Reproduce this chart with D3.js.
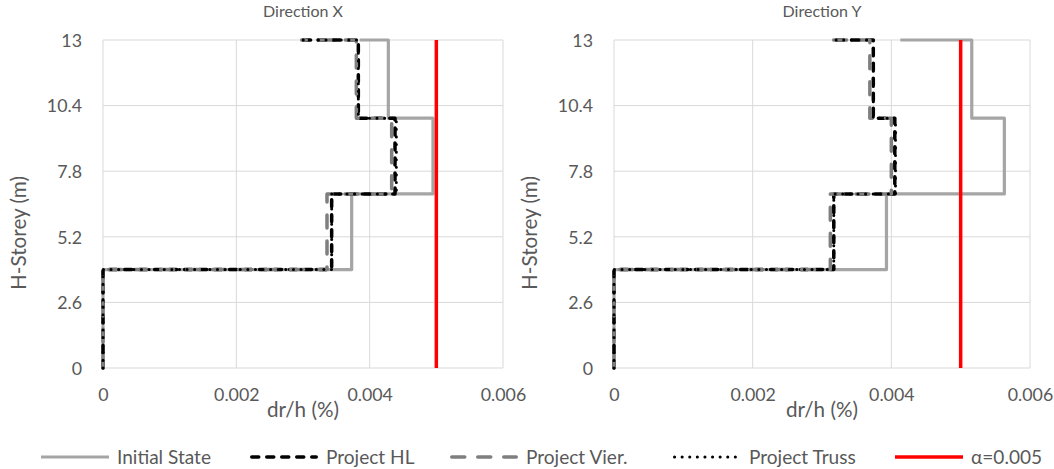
<!DOCTYPE html>
<html><head><meta charset="utf-8">
<script src="https://cdn.jsdelivr.net/npm/d3@7"></script>
<style>
body{margin:0;background:#fff;}
text{font-family:Lato,"Open Sans",sans-serif;fill:#595959;}
</style></head>
<body><svg id="c" width="1054" height="469"></svg>
<script>
// Heights of step points (m)
const heights = [0, 3.9, 3.9, 6.9, 6.9, 9.9, 9.9, 13, 13];
const yTicks = [0, 2.6, 5.2, 7.8, 10.4, 13];
const xTicks = [0, 0.002, 0.004, 0.006];
const seriesNames = ["Initial State", "Project HL", "Project Vier.", "Project Truss"];
const limitLabel = "α=0.005";
const limitValue = 0.005;

// Direction X
const xInitial = [0, 0, 0.00373, 0.00373, 0.00495, 0.00495, 0.00428, 0.00428, 0.00385];
const xHL      = [0, 0, 0.00343, 0.00343, 0.00438, 0.00438, 0.00383, 0.00383, 0.00298];
const xVier    = [0, 0, 0.00336, 0.00336, 0.00433, 0.00433, 0.00380, 0.00380, 0.00298];
const xTruss   = [0, 0, 0.00343, 0.00343, 0.00440, 0.00440, 0.00383, 0.00383, 0.00298];
// Direction Y
const yInitial = [0, 0, 0.00393, 0.00393, 0.00563, 0.00563, 0.00516, 0.00516, 0.00413];
const yHL      = [0, 0, 0.00317, 0.00317, 0.00405, 0.00405, 0.00374, 0.00374, 0.00312];
const yVier    = [0, 0, 0.00312, 0.00312, 0.00400, 0.00400, 0.00369, 0.00369, 0.00312];
const yTruss   = [0, 0, 0.00317, 0.00317, 0.00406, 0.00406, 0.00374, 0.00374, 0.00312];

const styles = [
  {color:"#A5A5A5", width:3.2, dash:null, cap:"butt"},
  {color:"#000000", width:3.5, dash:"7,8", cap:"round"},
  {color:"#7F7F7F", width:3.5, dash:"13,13", cap:"round"},
  {color:"#000000", width:3, dash:"0.1,7.5", cap:"round"}
];
const limitStyle = {color:"#FF0000", width:3.5};

const svg = d3.select("#c");

// font size that gives a sample string a target pixel width
function fitSize(sample, target) {
  const t = svg.append("text").attr("font-size", 20).text(sample);
  const w = t.node().getComputedTextLength();
  t.remove();
  return 20 * target / w;
}
const tickFS = (fitSize("0.002", 47) + fitSize("10.4", 34)) / 2;
const titleFS = fitSize("Direction X", 80);
const axisFS = fitSize("H-Storey (m)", 114);
const legendFS = fitSize("Initial State", 94);

function panel(title, x0, x1, series) {
  const x = d3.scaleLinear().domain([0, 0.006]).range([x0, x1]);
  const y = d3.scaleLinear().domain([0, 13]).range([368, 40]);
  const g = svg.append("g");
  g.selectAll(".hg").data(yTicks).join("line")
    .attr("x1", x0).attr("x2", x1).attr("y1", d => y(d)).attr("y2", d => y(d))
    .attr("stroke", "#D9D9D9").attr("stroke-width", 1);
  g.selectAll(".vg").data(xTicks).join("line")
    .attr("y1", y(0)).attr("y2", y(13)).attr("x1", d => x(d)).attr("x2", d => x(d))
    .attr("stroke", "#D9D9D9").attr("stroke-width", 1);
  const ax = g.append("g").attr("transform", `translate(0,${y(0)})`)
    .call(d3.axisBottom(x).tickValues(xTicks).tickFormat(d => d === 0 ? "0" : d3.format(".3f")(d)).tickSize(0).tickPadding(20));
  ax.select(".domain").remove();
  ax.selectAll("text").attr("font-size", tickFS).attr("fill", "#595959").attr("dy", "0.35em")
    .attr("y", 27).style("font-family", "Lato");
  const ay = g.append("g").attr("transform", `translate(${x0},0)`)
    .call(d3.axisLeft(y).tickValues(yTicks).tickFormat(d => String(d)).tickSize(0).tickPadding(21));
  ay.select(".domain").remove();
  ay.selectAll("text").attr("font-size", tickFS).attr("fill", "#595959").attr("dy", "0.35em").style("font-family", "Lato");

  const line = d3.line().x(d => x(d[0])).y(d => y(d[1]));
  series.forEach((vals, i) => {
    const s = styles[i];
    g.append("path").datum(vals.map((v, k) => [v, heights[k]]))
      .attr("d", line).attr("fill", "none")
      .attr("stroke", s.color).attr("stroke-width", s.width)
      .attr("stroke-dasharray", s.dash).attr("stroke-linecap", s.cap)
      .attr("stroke-linejoin", "round");
  });
  g.append("path").datum([[limitValue, 0], [limitValue, 13]])
    .attr("d", line).attr("stroke", limitStyle.color).attr("stroke-width", limitStyle.width);

  g.append("text").attr("x", (x0 + x1) / 2).attr("y", 17).attr("text-anchor", "middle")
    .attr("font-size", titleFS).text(title);
  g.append("text").attr("x", (x0 + x1) / 2).attr("y", 417).attr("text-anchor", "middle")
    .attr("font-size", axisFS).text("dr/h (%)");
  g.append("text").attr("transform", `translate(${x0 - 84},233) rotate(-90)`)
    .attr("text-anchor", "middle").attr("dy", "0.35em").attr("font-size", axisFS).text("H-Storey (m)");
}

panel("Direction X", 103, 503, [xInitial, xHL, xVier, xTruss]);
panel("Direction Y", 614, 1030, [yInitial, yHL, yVier, yTruss]);

// Legend
const legendItems = seriesNames.map((n, i) => ({name:n, style:styles[i]}))
  .concat([{name:limitLabel, style:{color:limitStyle.color, width:limitStyle.width, dash:null, cap:"butt"}}]);
const legendX = [41, 250, 450, 673, 895];
const lg = svg.append("g");
legendItems.forEach((it, i) => {
  const lx = legendX[i], ly = 457;
  const cap = it.style.cap === "round" ? it.style.width / 2 : 0;
  lg.append("line").attr("x1", lx + cap).attr("x2", lx + 68 - cap).attr("y1", ly).attr("y2", ly)
    .attr("stroke", it.style.color).attr("stroke-width", it.style.width)
    .attr("stroke-dasharray", it.style.dash).attr("stroke-linecap", it.style.cap);
  lg.append("text").attr("x", lx + 76).attr("y", ly).attr("dy", "0.35em")
    .attr("font-size", legendFS).text(it.name);
});
</script></body></html>
